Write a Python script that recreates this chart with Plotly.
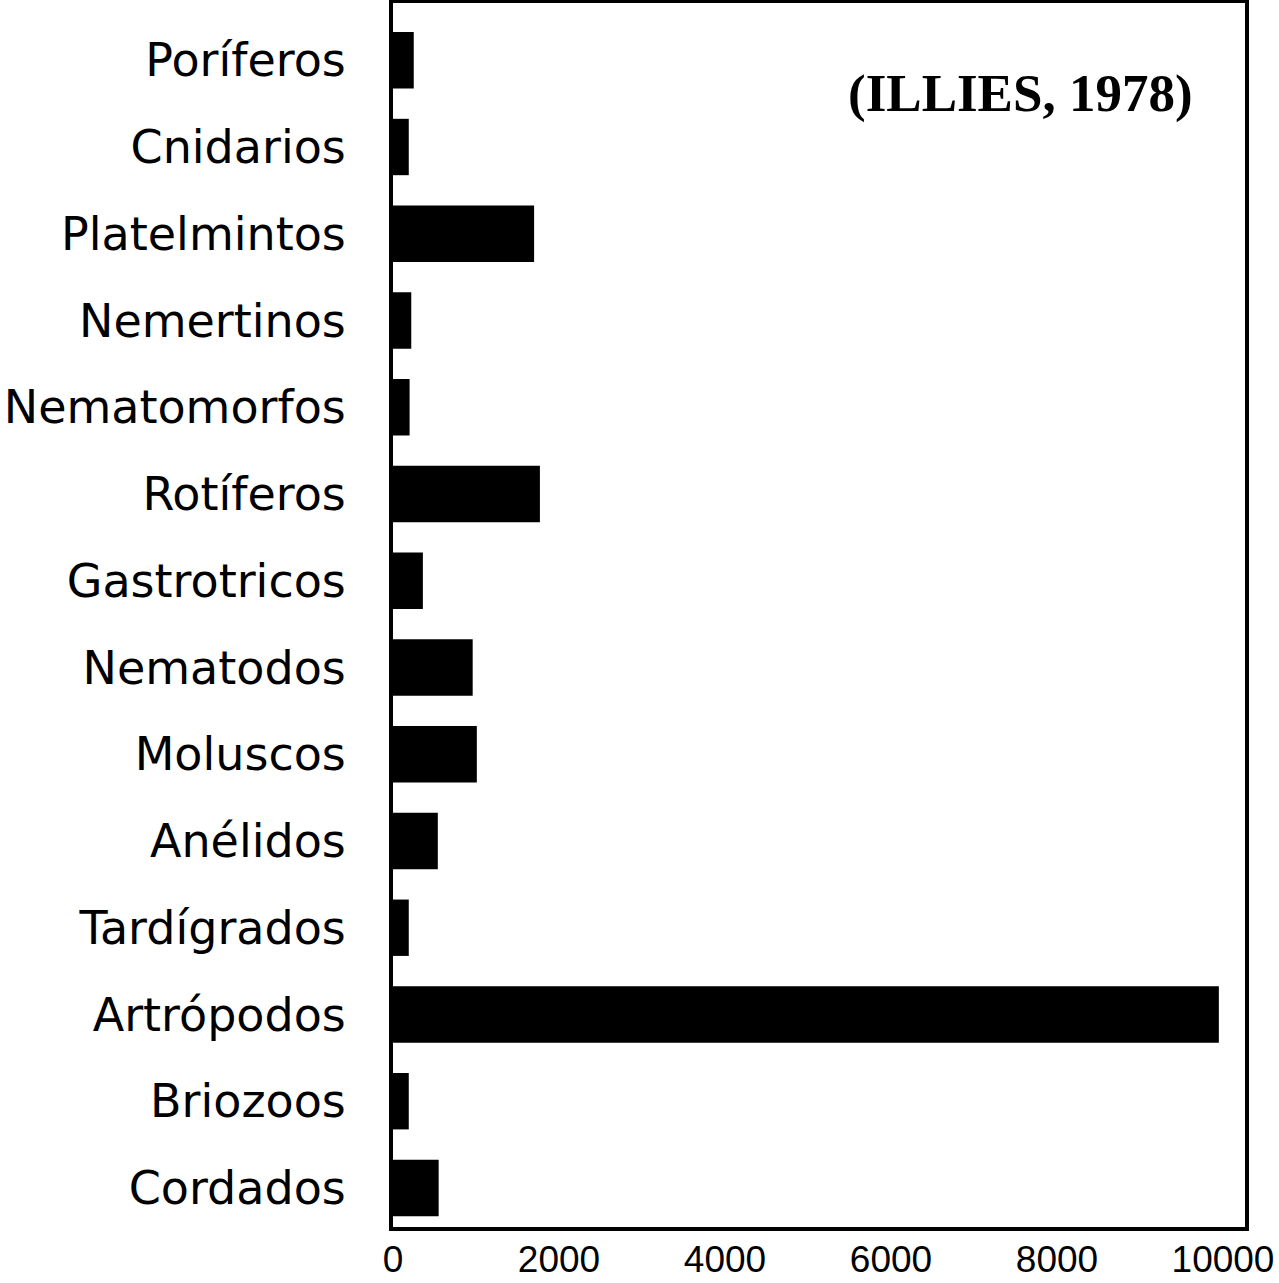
import plotly.graph_objects as go

categories = ["Poríferos", "Cnidarios", "Platelmintos", "Nemertinos", "Nematomorfos",
              "Rotíferos", "Gastrotricos", "Nematodos", "Moluscos", "Anélidos",
              "Tardígrados", "Artrópodos", "Briozoos", "Cordados"]
species = [250, 190, 1700, 220, 200, 1770, 360, 960, 1010, 540, 190, 9950, 190, 550]
x_ticks = [0, 2000, 4000, 6000, 8000, 10000]

fig = go.Figure(go.Bar(
    x=species, y=categories, orientation="h",
    marker=dict(color="black", line=dict(width=0)),
    width=0.65,
))

fig.update_layout(
    width=1279, height=1283,
    margin=dict(l=393, r=34, t=3, b=56),
    paper_bgcolor="white", plot_bgcolor="white",
    showlegend=False,
    font=dict(family="DejaVu Sans", color="black"),
    annotations=[dict(
        text="<b>(ILLIES, 1978)</b>", xref="paper", yref="paper",
        x=0.737, y=0.926, xanchor="center", yanchor="middle", showarrow=False,
        font=dict(family="Liberation Serif", size=53, color="black"),
    )],
)
fig.update_xaxes(
    range=[0, 10265], tickvals=x_ticks, ticktext=[str(v) for v in x_ticks],
    showgrid=False, zeroline=False, automargin=False,
    showline=True, linewidth=4, linecolor="black", mirror=True,
    ticks="", tickfont=dict(size=37, family="Liberation Sans"), ticklabelstandoff=-3,
)
fig.update_yaxes(
    categoryorder="array", categoryarray=categories,
    range=[13.45, -0.66], automargin=False,
    showgrid=False, zeroline=False,
    showline=True, linewidth=4, linecolor="black", mirror=True,
    ticks="", tickfont=dict(size=46, family="DejaVu Sans"), ticklabelstandoff=34,
)

fig.write_html("out.html", config={"displayModeBar": False},
               post_script="document.body.style.margin='0';document.body.style.overflow='hidden';")
